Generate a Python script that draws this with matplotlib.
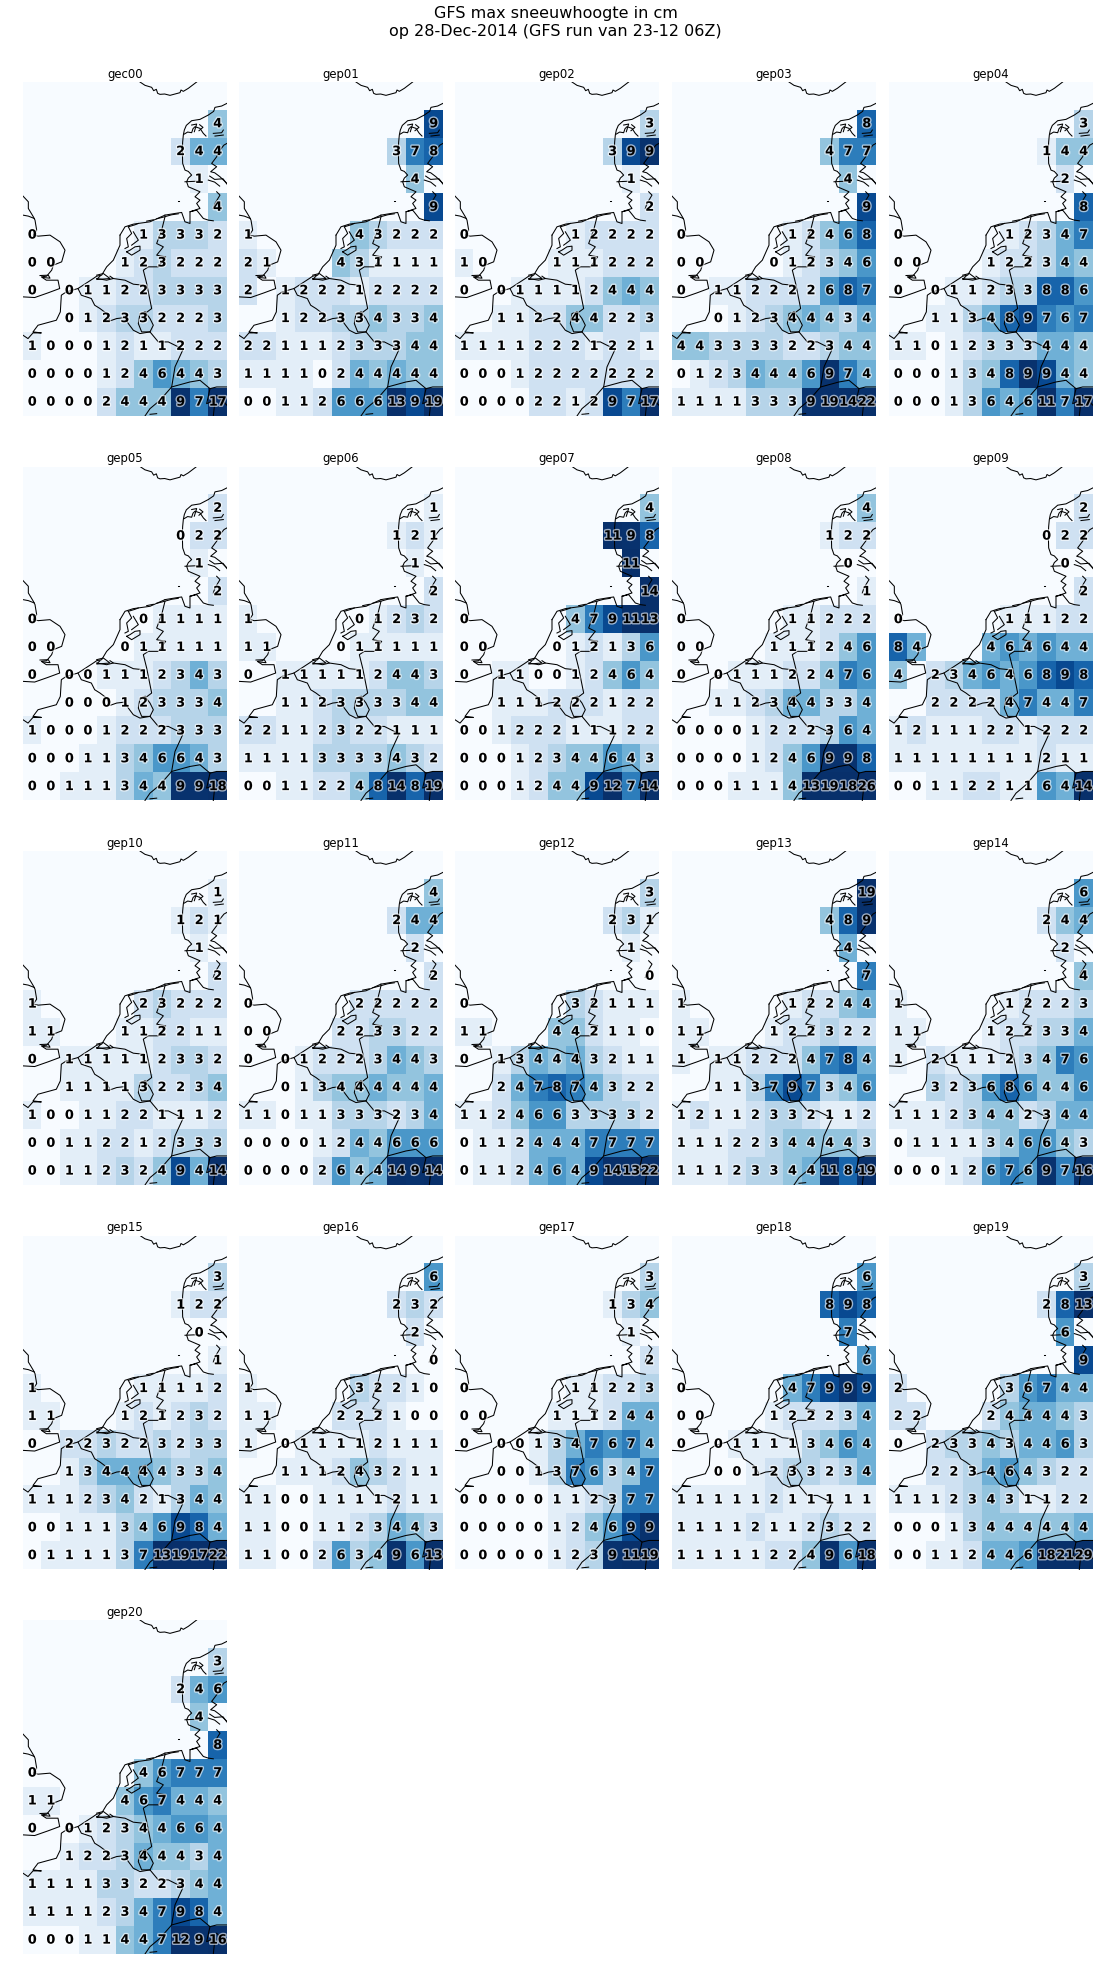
import numpy as np
import matplotlib
matplotlib.use("Agg")
import matplotlib.pyplot as plt
import matplotlib.patheffects as pe

# grid: 1 degree cells, rows are lat 58..47, cols lon 0..10
lons = np.arange(0, 11)
lats = np.arange(58, 46, -1)

# which columns are land in each row (sea cells have no value)
land_cols = [
    [],
    [10],
    [8, 9, 10],
    [9],
    [10],
    [0, 6, 7, 8, 9, 10],
    [0, 1, 5, 6, 7, 8, 9, 10],
    [0, 2, 3, 4, 5, 6, 7, 8, 9, 10],
    [2, 3, 4, 5, 6, 7, 8, 9, 10],
    list(range(11)),
    list(range(11)),
    list(range(11)),
]

# snow depth per member, rows 1..11 of land_cols. label is int(value)
gec00 = [[4], [2, 4.9, 4.9], [1], [4], [0, 1, 3, 3, 3, 2], [0, 0, 1, 2, 3, 2, 2, 2], [0, 0, 1, 1, 2, 2, 3, 3, 3, 3],
         [0, 1, 2, 3, 3, 2, 2, 2, 3], [1, 0, 0, 0, 1, 2, 1, 1, 2, 2, 2], [0, 0, 0, 0, 1, 2, 4, 6, 4.9, 4, 3],
         [0, 0, 0, 0, 2, 4, 4, 4, 9.9, 7, 17]]
gep01 = [[9], [3, 7, 8], [4], [9], [1, 4, 3, 2, 2, 2], [2, 1, 4, 3, 1, 1, 1, 1], [2, 1, 2, 2, 2, 1, 2, 2, 2, 2],
         [1, 2, 2, 3, 3, 4, 3, 3, 4], [2, 2, 1, 1, 1, 2, 3, 3, 3, 4, 4], [1, 1, 1, 1, 0, 2, 4.9, 4, 4.9, 4, 4],
         [0, 0, 1, 1, 2, 6, 6, 6, 13, 9, 19]]
gep02 = [[3], [3, 9, 9.9], [1], [2], [0, 1, 2, 2, 2, 2], [1, 0, 1, 1, 1, 2, 2, 2], [0, 0, 1, 1, 1, 1, 2, 4, 4.9, 4],
         [1, 1, 2, 2, 4, 4, 2, 2, 3], [1, 1, 1, 1, 2, 2, 2, 1, 2, 2, 1], [0, 0, 0, 1, 2, 2, 2, 2, 2, 2, 2],
         [0, 0, 0, 0, 2, 2, 1, 2, 9, 7, 17]]
gep03 = [[8], [4, 7, 7], [4], [9], [0, 1, 2, 4, 6, 8], [0, 0, 0, 1, 2, 3, 4, 6], [0, 1, 1, 2, 2, 2, 2, 6, 8, 7],
         [0, 1, 2, 3, 4, 4.9, 4, 3, 4.9], [4, 4, 3, 3, 3, 3, 2, 2, 3, 4, 4], [0, 1, 2, 3, 4.9, 4, 4, 6, 9.9, 7, 4.9],
         [1, 1, 1, 1, 3, 3, 3, 9.9, 19, 14, 22]]
gep04 = [[3], [1, 4, 4], [2], [8], [0, 1, 2, 3, 4.9, 7], [0, 0, 1, 2, 2, 3, 4.9, 4], [0, 0, 1, 1, 2, 3, 3, 8, 8, 6],
         [1, 1, 3, 4.9, 8, 9, 7, 6, 7], [1, 1, 0, 1, 2, 3, 3, 3, 4.9, 4.9, 4], [0, 0, 0, 1, 3, 4, 8, 9.9, 9, 4.9, 4],
         [0, 0, 0, 1, 3, 6, 4.9, 6, 11, 7, 17]]
gep05 = [[2], [0, 2, 2], [1], [2], [0, 0, 1, 1, 1, 1], [0, 0, 0, 1, 1, 1, 1, 1], [0, 0, 0, 1, 1, 1, 2, 3, 4.9, 3],
         [0, 0, 0, 1, 2, 3, 3, 3, 4], [1, 0, 0, 0, 1, 2, 2, 2, 3, 3, 3], [0, 0, 0, 1, 1, 3, 4, 6, 6, 4.9, 3],
         [0, 0, 1, 1, 1, 3, 4.9, 4, 9.9, 9.9, 18]]
gep06 = [[1], [1, 2, 1], [1], [2], [1, 0, 1, 2, 3, 2], [1, 1, 0, 1, 1, 1, 1, 1], [0, 1, 1, 1, 1, 1, 2, 4, 4, 3],
         [1, 1, 2, 3, 3, 3, 3, 4, 4], [2, 2, 1, 1, 2, 3, 2, 2, 1, 1, 1], [1, 1, 1, 1, 3, 3, 3, 3, 4, 3, 2],
         [0, 0, 1, 1, 2, 2, 4, 8, 14, 8, 19]]
gep07 = [[4], [11, 9.9, 8], [11], [14], [0, 4, 7, 9, 11, 13], [0, 0, 0, 1, 2, 1, 3, 6], [0, 1, 1, 0, 0, 1, 2, 4, 6, 4],
         [1, 1, 1, 2, 2, 2, 1, 2, 2], [0, 0, 1, 2, 2, 2, 1, 1, 1, 2, 2], [0, 0, 0, 1, 2, 3, 4, 4, 6, 4.9, 3],
         [0, 0, 0, 1, 2, 4, 4, 9, 12, 7, 14]]
gep08 = [[4], [1, 2, 2], [0], [1], [0, 1, 1, 2, 2, 2], [0, 0, 1, 1, 1, 2, 4, 6], [0, 0, 1, 1, 1, 2, 2, 4, 7, 6],
         [1, 1, 2, 3, 4.9, 4.9, 3, 3, 4.9], [0, 0, 0, 0, 1, 2, 2, 2, 3, 6, 4.9], [0, 0, 0, 0, 1, 2, 4, 6, 9.9, 9.9, 8],
         [0, 0, 0, 1, 1, 1, 4, 13, 19, 18, 26]]
gep09 = [[2], [0, 2, 2], [0], [2], [0, 1, 1, 1, 2, 2], [8, 4.9, 4.9, 6, 4.9, 6, 4.9, 4.9],
         [4, 2, 3, 4.9, 6, 4.9, 6, 8, 9, 8], [2, 2, 2, 2, 4.9, 7, 4.9, 4.9, 7], [1, 2, 1, 1, 1, 2, 2, 1, 2, 2, 2],
         [1, 1, 1, 1, 1, 1, 1, 1, 2, 1, 1], [0, 0, 1, 1, 2, 2, 1, 1, 6, 4.9, 14]]
gep10 = [[1], [1, 2, 1], [1], [2], [1, 2, 3, 2, 2, 2], [1, 1, 1, 1, 2, 2, 1, 1], [0, 1, 1, 1, 1, 1, 2, 3, 3, 2],
         [1, 1, 1, 1, 3, 2, 2, 3, 4], [1, 0, 0, 1, 1, 2, 2, 1, 1, 1, 2], [0, 0, 1, 1, 2, 2, 1, 2, 3, 3, 3],
         [0, 0, 1, 1, 2, 3, 2, 4, 9, 4.9, 14]]
gep11 = [[4], [2, 4.9, 4.9], [2], [2], [0, 2, 2, 2, 2, 2], [0, 0, 2, 2, 3, 3, 2, 2], [0, 0, 1, 2, 2, 2, 3, 4.9, 4, 3],
         [0, 1, 3, 4, 4, 4.9, 4, 4, 4.9], [1, 1, 0, 1, 1, 3, 3, 3, 2, 3, 4.9], [0, 0, 0, 0, 1, 2, 4.9, 4, 6, 6, 6],
         [0, 0, 0, 0, 2, 6, 4, 4.9, 14, 9.9, 14]]
gep12 = [[3], [2, 3, 1], [1], [0], [0, 3, 2, 1, 1, 1], [1, 1, 4, 4, 2, 1, 1, 0], [0, 1, 3, 4.9, 4, 4.9, 3, 2, 1, 1],
         [2, 4.9, 7, 8, 7, 4.9, 3, 2, 2], [1, 1, 2, 4, 6, 6, 3, 3, 3, 3, 2], [0, 1, 1, 2, 4.9, 4.9, 4.9, 7, 7, 7, 7],
         [0, 1, 1, 2, 4.9, 6, 4.9, 9, 14, 13, 22]]
gep13 = [[19], [4, 8, 9.9], [4.9], [7], [1, 1, 2, 2, 4, 4.9], [1, 1, 1, 2, 2, 3, 2, 2], [1, 1, 1, 2, 2, 2, 4, 7, 8, 4.9],
         [1, 1, 3, 7, 9, 7, 3, 4, 6], [1, 2, 1, 1, 2, 3, 3, 2, 1, 1, 2], [1, 1, 1, 2, 2, 3, 4, 4, 4, 4, 3],
         [1, 1, 1, 2, 3, 3, 4, 4.9, 11, 8, 19]]
gep14 = [[6], [2, 4, 4.9], [2], [4], [1, 1, 2, 2, 2, 3], [1, 1, 1, 2, 2, 3, 3, 4.9], [1, 2, 1, 1, 1, 2, 3, 4, 7, 6],
         [3, 2, 3, 6, 8, 6, 4, 4, 6], [1, 1, 1, 2, 3, 4, 4, 2, 3, 4.9, 4.9], [0, 1, 1, 1, 1, 3, 4, 6, 6, 4, 3],
         [0, 0, 0, 1, 2, 6, 7, 6, 9.9, 7, 16]]
gep15 = [[3], [1, 2, 2], [0], [1], [1, 1, 1, 1, 1, 2], [1, 1, 1, 2, 1, 2, 3, 2], [0, 2, 2, 3, 2, 2, 3, 2, 3, 3],
         [1, 3, 4.9, 4.9, 4.9, 4, 3, 3, 4], [1, 1, 1, 2, 3, 4, 2, 1, 3, 4.9, 4], [0, 0, 1, 1, 1, 3, 4, 6, 9, 8, 4.9],
         [0, 1, 1, 1, 1, 3, 7, 13, 19, 17, 22]]
gep16 = [[6], [2, 3, 2], [2], [0], [1, 3, 2, 2, 1, 0], [1, 1, 2, 2, 2, 1, 0, 0], [1, 0, 1, 1, 1, 1, 2, 1, 1, 1],
         [1, 1, 1, 2, 4, 3, 2, 1, 1], [1, 1, 0, 0, 1, 1, 1, 1, 2, 1, 1], [1, 1, 0, 0, 1, 1, 2, 3, 4.9, 4, 3],
         [1, 1, 0, 0, 2, 6, 3, 4, 9.9, 6, 13]]
gep17 = [[3], [1, 3, 4], [1], [2], [0, 1, 1, 2, 2, 3], [0, 0, 1, 1, 1, 2, 4.9, 4.9], [0, 0, 0, 1, 3, 4.9, 7, 6, 7, 4.9],
         [0, 0, 1, 3, 7, 6, 3, 4, 7], [0, 0, 0, 0, 0, 1, 1, 2, 3, 7, 7], [0, 0, 0, 0, 0, 1, 2, 4, 6, 9, 9.9],
         [0, 0, 0, 0, 0, 1, 2, 3, 9.9, 11, 19]]
gep18 = [[6], [8, 9, 8], [7], [6], [0, 4.9, 7, 9, 9.9, 9], [0, 0, 1, 2, 2, 2, 3, 4.9], [0, 0, 1, 1, 1, 1, 3, 4, 6, 4.9],
         [0, 0, 1, 2, 3, 3, 2, 3, 4.9], [1, 1, 1, 1, 1, 2, 1, 1, 1, 1, 1], [1, 1, 1, 1, 2, 1, 1, 2, 3, 2, 2],
         [1, 1, 1, 1, 1, 2, 2, 4, 9.9, 6, 18]]
gep19 = [[3], [2, 8, 13], [6], [9], [2, 3, 6, 7, 4.9, 4.9], [2, 2, 2, 4, 4.9, 4.9, 4, 3], [0, 2, 3, 3, 4, 3, 4.9, 4.9, 6, 3],
         [2, 2, 3, 4.9, 6, 4, 3, 2, 2], [1, 1, 1, 2, 3, 4, 3, 1, 1, 2, 2], [0, 0, 0, 1, 3, 4, 4, 4, 4, 4, 4.9],
         [0, 0, 1, 1, 2, 4.9, 4.9, 6, 18, 21, 29]]
gep20 = [[3], [2, 4.9, 6], [4], [8], [0, 4, 6, 7, 7, 7], [1, 1, 4, 6, 7, 4.9, 4.9, 4], [0, 0, 1, 2, 3, 4, 4.9, 6, 6, 4.9],
         [1, 2, 2, 3, 4.9, 4, 4, 3, 4.9], [1, 1, 1, 1, 3, 3, 2, 2, 3, 4, 4.9], [1, 1, 1, 1, 2, 3, 4.9, 7, 9, 8, 4.9],
         [0, 0, 0, 1, 1, 4, 4.9, 7, 12, 9.9, 16]]

members = ["gec00"] + ["gep%02d" % i for i in range(1, 21)]
runs = [gec00, gep01, gep02, gep03, gep04, gep05, gep06, gep07, gep08, gep09, gep10,
        gep11, gep12, gep13, gep14, gep15, gep16, gep17, gep18, gep19, gep20]

# outlines, in tile pixels x3 (tile is 612 x 1001)
outlines = [
    # norway
    [(351, 0), (366, 10), (386, 16), (392, 26), (400, 22), (404, 34), (411, 37), (425, 36), (441, 40), (456, 36),
     (471, 32), (474, 24), (481, 28), (496, 19), (521, 0)],
    # jutland, schleswig
    [(612, 64), (596, 72), (576, 76), (572, 88), (556, 99), (531, 112), (506, 116), (490, 130), (484, 144), (481, 159),
     (479, 180), (478, 204), (479, 244), (486, 264), (496, 268), (506, 279), (496, 288), (491, 299), (496, 314),
     (531, 329), (516, 344), (531, 354), (521, 364), (531, 379), (501, 389), (521, 384), (541, 409), (556, 414),
     (571, 416)],
    # limfjord
    [(484, 156), (494, 150), (506, 152), (510, 140), (516, 134), (531, 139), (541, 154), (549, 162)],
    [(506, 129), (521, 126), (514, 149)],
    [(530, 128), (540, 136), (528, 146)],
    [(571, 154), (596, 152), (601, 144)],
    [(576, 162), (601, 159)],
    # east jutland, fyn
    [(612, 184), (603, 189), (590, 205), (581, 224), (566, 244), (581, 254), (563, 269), (575, 272), (591, 284),
     (612, 304)],
    [(560, 282), (575, 292), (600, 290), (612, 306)],
    [(556, 294), (575, 300), (590, 312)],
    [(581, 329), (591, 339), (576, 364), (571, 379)],
    [(486, 299), (531, 297)],
    # german bight, frisian coast
    [(426, 399), (456, 394), (476, 391), (486, 419), (501, 424), (501, 389)],
    # islands
    [(316, 434), (336, 428), (346, 424)],
    [(371, 417), (391, 413)],
    [(401, 410), (421, 405), (446, 398), (466, 395)],
    [(465, 358), (469, 358)],
    # netherlands
    [(291, 459), (306, 434), (331, 426), (381, 419), (426, 399)],
    [(291, 459), (291, 489), (271, 534), (251, 554), (236, 579), (221, 582), (211, 589), (165, 619), (130, 629),
     (115, 639), (112, 689), (100, 714), (45, 729), (30, 749), (55, 752), (30, 752), (15, 769), (0, 759)],
    [(316, 434), (326, 454), (311, 469), (316, 494), (306, 499)],
    [(311, 509), (326, 519), (351, 504), (351, 492), (336, 494), (321, 504), (311, 509)],
    [(331, 449), (346, 474), (326, 489)],
    [(221, 579), (241, 574), (261, 589), (221, 592), (231, 582)],
    [(221, 589), (251, 594), (271, 589), (261, 582)],
    # nl/de border
    [(426, 404), (416, 444), (401, 484), (421, 494), (401, 519), (428, 524), (406, 554), (376, 554), (361, 564),
     (371, 604), (381, 654), (386, 679), (366, 694)],
    # be/nl
    [(271, 589), (306, 594), (331, 606), (361, 609)],
    # fr/be
    [(165, 619), (175, 639), (205, 649), (215, 669), (231, 679), (251, 694), (261, 716), (281, 709), (306, 706),
     (316, 724), (331, 744), (351, 754), (381, 749)],
    # luxembourg
    [(366, 689), (351, 694), (346, 724), (356, 749), (381, 749), (391, 729), (381, 709), (366, 689)],
    # rhine, swiss and french border
    [(381, 749), (406, 779), (436, 779), (476, 799), (479, 804), (456, 854), (446, 914), (411, 954), (381, 979),
     (366, 1001)],
    [(446, 914), (501, 899), (531, 894), (561, 919), (581, 914), (612, 914)],
    [(561, 919), (551, 964), (576, 954), (571, 1001)],
    [(581, 939), (612, 969)],
    [(381, 996), (401, 994)],
    # england
    [(0, 342), (16, 359), (16, 379), (31, 404), (36, 414), (41, 444), (31, 459), (46, 462), (81, 459), (111, 479),
     (126, 504), (116, 539), (91, 549), (86, 564), (71, 582), (55, 584), (70, 594), (105, 594), (110, 619),
     (75, 632), (35, 646), (0, 644)],
    [(0, 399), (16, 402), (34, 409)],
    [(51, 580), (76, 579), (81, 588), (61, 586)],
]

bg = "#f7fbff"
cmap = plt.get_cmap("Blues").copy()
cmap.set_bad(bg)

tile_w, tile_h = 204, 334
lefts = [23, 239, 455, 672, 889]
tops = [82, 466.5, 851, 1235.5, 1620]
W, H = 1111, 1975

fig = plt.figure(figsize=(W / 100, H / 100), dpi=100)
fig.text(0.5, 1 - 22.5 / H, "GFS max sneeuwhoogte in cm\nop 28-Dec-2014 (GFS run van 23-12 06Z)",
         ha="center", va="center", fontsize=11.5, linespacing=1.2)

for i, (name, run) in enumerate(zip(members, runs)):
    row, col = divmod(i, 5)
    ax = fig.add_axes([lefts[col] / W, 1 - (tops[row] + tile_h) / H, tile_w / W, tile_h / H])

    grid = np.full((len(lats), len(lons)), np.nan)
    for r, cols in enumerate(land_cols):
        if r == 0:
            continue
        grid[r, cols] = run[r - 1]

    ax.imshow(grid, cmap=cmap, vmin=0, vmax=10, aspect="auto", interpolation="nearest",
              extent=[lons[0] - 0.5, lons[-1] + 0.5, lats[-1] - 0.5, lats[0] + 0.5])

    for line in outlines:
        xy = np.array(line, dtype=float)
        ax.plot(xy[:, 0] / 55.64 - 0.5, 58.5 - xy[:, 1] / 83.42, color="k", lw=0.75, zorder=2)

    for r, cols in enumerate(land_cols):
        if r == 0:
            continue
        for c, v in zip(cols, run[r - 1]):
            ax.text(lons[c], lats[r], str(int(v)), ha="center", va="center", fontsize=9.2,
                    fontweight="bold", color="k", zorder=3,
                    path_effects=[pe.withStroke(linewidth=2, foreground="w", alpha=0.6)])

    ax.set_xlim(lons[0] - 0.5, lons[-1] + 0.5)
    ax.set_ylim(lats[-1] - 0.5, lats[0] + 0.5)
    ax.set_title(name, fontsize=8.4, pad=3)
    ax.axis("off")

fig.savefig("out.png", dpi=100, facecolor="white")
